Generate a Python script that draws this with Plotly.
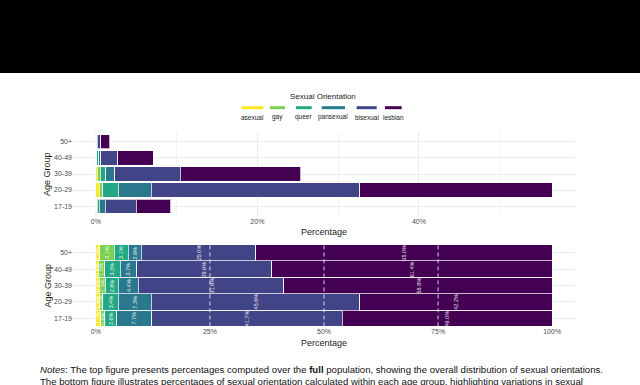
import plotly.graph_objects as go

# ---------------- data ----------------
age_groups = ["17-19", "20-29", "30-39", "40-49", "50+"]
orientations = ["asexual", "gay", "queer", "pansexual", "bisexual", "lesbian"]
colors = ["#FDE725", "#7AD151", "#22A884", "#2A788E", "#414487", "#440154"]

# share of full population in each age group (%)
group_share = [9.3, 56.5, 25.4, 7.1, 1.7]

# within-age-group percentages, one list per orientation (order follows age_groups)
asexual = [1.1, 0.8, 0.8, 0.5, 0.9]
gay = [0.9, 0.7, 1.3, 1.5, 3.1]
queer = [2.6, 3.4, 2.8, 3.3, 3.1]
pansexual = [7.7, 7.3, 4.4, 3.7, 2.9]
bisexual = [41.7, 45.6, 31.9, 29.6, 25.0]
lesbian = [46.0, 42.2, 58.8, 61.4, 65.0]
within = [asexual, gay, queer, pansexual, bisexual, lesbian]

top_ticks = [0, 20, 40]
top_minor = [10, 30, 50]
bottom_ticks = [0, 25, 50, 75, 100]
bottom_minor = [12.5, 37.5, 62.5, 87.5]
ref_lines = [25, 50, 75]

notes_line1 = ("<i>Notes</i>: The top figure presents percentages computed over the <b>full</b> population, "
               "showing the overall distribution of sexual orientations.")
notes_line2 = ("The bottom figure illustrates percentages of sexual orientation calculated within each age "
               "group, highlighting variations in sexual")

# ---------------- helpers ----------------
W, H = 640, 385
def px(x):
    return x / W
def py(y):
    return 1 - y / H

FONT = "Liberation Sans, Arial, Helvetica, sans-serif"
outline = "rgba(255,255,255,0.72)"

overall = [[s * v / 100 for s, v in zip(group_share, vals)] for vals in within]
totals = [sum(col) for col in zip(*overall)]
M = max(totals)

fig = go.Figure()
for name, col, ov, wv in zip(orientations, colors, overall, within):
    fig.add_trace(go.Bar(
        y=age_groups, x=ov, orientation="h", name=name, width=0.88,
        marker=dict(color=col, line=dict(color=outline, width=1)),
        xaxis="x", yaxis="y", showlegend=False, hoverinfo="skip"))
    fig.add_trace(go.Bar(
        y=age_groups, x=wv, orientation="h", name=name, width=1.0,
        marker=dict(color=col, line=dict(color=outline, width=1)),
        xaxis="x2", yaxis="y2", showlegend=False, hoverinfo="skip"))

annotations = []
shapes = []

# segment labels in bottom chart (centred in each segment)
cum = [0.0] * len(age_groups)
for vals in within:
    for j, (g, v) in enumerate(zip(age_groups, vals)):
        annotations.append(dict(
            x=cum[j] + v / 2, y=g, xref="x2", yref="y2", text=f"{v:.1f}%",
            textangle=-90, showarrow=False,
            font=dict(family=FONT, size=5.5, color="rgba(255,255,255,0.9)")))
        cum[j] += v

# dashed reference lines
for v in ref_lines:
    shapes.append(dict(type="line", xref="x2", yref="y2 domain", x0=v, x1=v, y0=0, y1=1,
                       line=dict(color="rgba(255,255,255,0.8)", width=1, dash="4px,3px"),
                       layer="above"))

tickfont = dict(family=FONT, size=7, color="#4d4d4d")
grid = "#ebebeb"

xdom = [px(73), px(575)]
top_dom = [py(215.7), py(132.3)]
bot_dom = [py(326.4), py(244.6)]

fig.update_layout(
    width=W, height=H, barmode="stack",
    margin=dict(l=0, r=0, t=0, b=0),
    paper_bgcolor="white", plot_bgcolor="white",
    font=dict(family=FONT),
    xaxis=dict(domain=xdom, anchor="y", range=[-0.05 * M, 1.05 * M],
               tickvals=top_ticks, ticktext=[f"{t}%" for t in top_ticks],
               showgrid=True, gridcolor=grid, gridwidth=1, zeroline=False, showline=False,
               ticks="", tickfont=tickfont, automargin=False,
               minor=dict(tickvals=top_minor, showgrid=True, gridcolor="#f3f3f3", gridwidth=0.6)),
    yaxis=dict(domain=top_dom, anchor="x", categoryorder="array", categoryarray=age_groups,
               range=[-0.6, 4.6], showgrid=True, gridcolor=grid, gridwidth=1, zeroline=False,
               ticks="", tickfont=tickfont, automargin=False),
    xaxis2=dict(domain=xdom, anchor="y2", range=[-5, 105],
                tickvals=bottom_ticks, ticktext=[f"{t}%" for t in bottom_ticks],
                showgrid=True, gridcolor=grid, gridwidth=1, zeroline=False, showline=False,
                ticks="", tickfont=tickfont, automargin=False,
                minor=dict(tickvals=bottom_minor, showgrid=True, gridcolor="#f3f3f3", gridwidth=0.6)),
    yaxis2=dict(domain=bot_dom, anchor="x2", categoryorder="array", categoryarray=age_groups,
                range=[-0.5, 4.5], showgrid=True, gridcolor=grid, gridwidth=1, zeroline=False,
                ticks="", tickfont=tickfont, automargin=False),
)

# axis titles
title_font = dict(family=FONT, size=9, color="#1a1a1a")
for yc in (232, 343):
    annotations.append(dict(x=px(324), y=py(yc), xref="paper", yref="paper", text="Percentage",
                            showarrow=False, font=title_font, xanchor="center", yanchor="middle"))
for yc in (174, 285.5):
    annotations.append(dict(x=px(47), y=py(yc), xref="paper", yref="paper", text="Age Group",
                            showarrow=False, font=title_font, textangle=-90,
                            xanchor="center", yanchor="middle"))

# legend (drawn manually: key above label)
annotations.append(dict(x=px(323), y=py(97), xref="paper", yref="paper", text="Sexual Orientation",
                        showarrow=False, font=dict(family=FONT, size=8, color="#1a1a1a"),
                        xanchor="center", yanchor="middle"))
key_x = [(241.7, 263.3), (270, 285), (296, 311.7), (321.7, 345), (356.7, 376.7), (385, 401.7)]
for (x0, x1), name, col in zip(key_x, orientations, colors):
    shapes.append(dict(type="line", xref="paper", yref="paper", x0=px(x0), x1=px(x1),
                       y0=py(107.7), y1=py(107.7), line=dict(color=col, width=3)))
    annotations.append(dict(x=px((x0 + x1) / 2), y=py(117), xref="paper", yref="paper", text=name,
                            showarrow=False, font=dict(family=FONT, size=6.5, color="#1a1a1a"),
                            xanchor="center", yanchor="middle"))

# black band at the top
shapes.append(dict(type="rect", xref="paper", yref="paper", x0=0, x1=1, y0=py(73), y1=1,
                   fillcolor="black", line=dict(width=0), layer="above"))

# notes
for txt, yc in ((notes_line1, 369), (notes_line2, 381)):
    annotations.append(dict(x=px(38), y=py(yc), xref="paper", yref="paper", text=txt,
                            showarrow=False, font=dict(family=FONT, size=9.6, color="#111111"),
                            xanchor="left", yanchor="middle", align="left"))

fig.update_layout(annotations=annotations, shapes=shapes)
fig.write_html("out.html", config={"displayModeBar": False},
               post_script="document.body.style.margin='0';document.body.style.overflow='hidden';")
